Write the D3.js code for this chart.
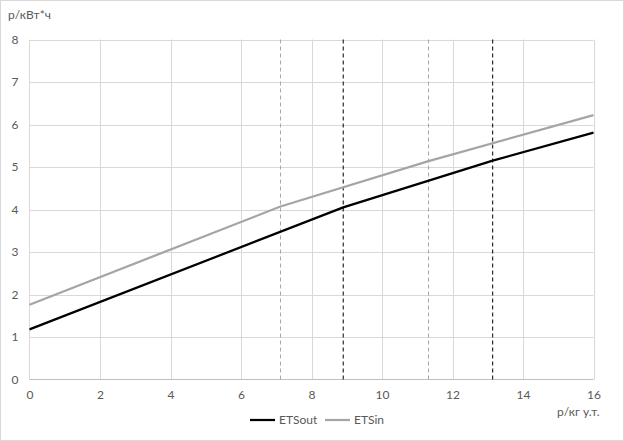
<!DOCTYPE html>
<html><head><meta charset="utf-8">
<script src="https://cdn.jsdelivr.net/npm/d3@7"></script>
<style>body{margin:0;background:#fff}svg{display:block}text{font-family:Lato,"Liberation Sans",sans-serif;font-size:12px;fill:#595959}</style>
</head><body><svg id="c" width="624" height="441"></svg>
<script>
const xTicks = [0,2,4,6,8,10,12,14,16];
const yTicks = [0,1,2,3,4,5,6,7,8];
const etsOutX = [0, 8.9, 13.14, 16];
const etsOutY = [1.18, 4.05, 5.15, 5.81];
const etsInX = [0, 7.12, 11.32, 16];
const etsInY = [1.76, 4.07, 5.14, 6.22];
const greyMarks = [7.12, 11.32];
const blackMarks = [8.9, 13.14];
const seriesNames = ["ETSout", "ETSin"];
const yTitle = "р/кВт*ч";
const xTitle = "р/кг у.т.";

const svg = d3.select("#c");
svg.append("rect").attr("x",0.5).attr("y",0.5).attr("width",623).attr("height",440).attr("fill","#fff").attr("stroke","#d9d9d9");
const x = d3.scaleLinear().domain([0,16]).range([29.5,593.5]);
const y = d3.scaleLinear().domain([0,8]).range([379.5,39.5]);

const g = svg.append("g");
// grid
g.selectAll(".vg").data(xTicks.slice(1)).join("line").attr("x1",d=>Math.round(x(d))+0.5).attr("x2",d=>Math.round(x(d))+0.5).attr("y1",y(0)).attr("y2",y(8)).attr("stroke","#d9d9d9");
g.selectAll(".hg").data(yTicks.slice(1)).join("line").attr("x1",x(0)).attr("x2",x(16)).attr("y1",d=>Math.round(y(d))+0.5).attr("y2",d=>Math.round(y(d))+0.5).attr("stroke","#d9d9d9");
g.append("line").attr("x1",x(0)).attr("x2",x(0)).attr("y1",y(0)).attr("y2",y(8)).attr("stroke","#d9d9d9");
g.append("line").attr("x1",x(0)).attr("x2",x(16)).attr("y1",y(0)).attr("y2",y(0)).attr("stroke","#bfbfbf");

// axes text
const ax = d3.axisBottom(x).tickValues(xTicks).tickSize(0).tickPadding(11);
svg.append("g").attr("transform",`translate(0,${y(0)})`).call(ax).call(s=>{s.select(".domain").remove();s.selectAll("text").style("font-family",null).style("font-size",null).attr("fill","#595959");});
svg.selectAll("g.tick text").attr("font-family",null).attr("font-size",null);
const ay = d3.axisLeft(y).tickValues(yTicks).tickSize(0).tickPadding(11);
svg.append("g").attr("transform",`translate(${x(0)},0)`).call(ay).call(s=>{s.select(".domain").remove();});
svg.selectAll("g.tick text").attr("font-family",null).attr("font-size",null).attr("fill","#595959");

// dashed markers
g.selectAll(".gm").data(greyMarks).join("line").attr("x1",d=>x(d)).attr("x2",d=>x(d)).attr("y1",y(0)).attr("y2",y(8)).attr("stroke","#a6a6a6").attr("stroke-dasharray","4,3");
g.selectAll(".bm").data(blackMarks).join("line").attr("x1",d=>x(d)).attr("x2",d=>x(d)).attr("y1",y(0)).attr("y2",y(8)).attr("stroke","#000").attr("stroke-dasharray","4,3");

const line = d3.line().x(d=>x(d[0])).y(d=>y(d[1]));
const inPts = etsInX.map((v,i)=>[v,etsInY[i]]);
const outPts = etsOutX.map((v,i)=>[v,etsOutY[i]]);
g.append("path").attr("d",line(inPts)).attr("fill","none").attr("stroke","#a5a5a5").attr("stroke-width",2.25).attr("stroke-linejoin","round");
g.append("path").attr("d",line(outPts)).attr("fill","none").attr("stroke","#000").attr("stroke-width",2.25).attr("stroke-linejoin","round");

svg.append("text").attr("x",8).attr("y",19).text(yTitle);
svg.append("text").attr("x",557).attr("y",416).text(xTitle);

// legend
const leg = svg.append("g");
const lx = [250, 325], colors = ["#000","#a5a5a5"];
seriesNames.forEach((n,i)=>{
  leg.append("line").attr("x1",lx[i]).attr("x2",lx[i]+25).attr("y1",420).attr("y2",420).attr("stroke",colors[i]).attr("stroke-width",2.25);
  leg.append("text").attr("x",lx[i]+29).attr("y",424).text(n);
});
</script></body></html>
